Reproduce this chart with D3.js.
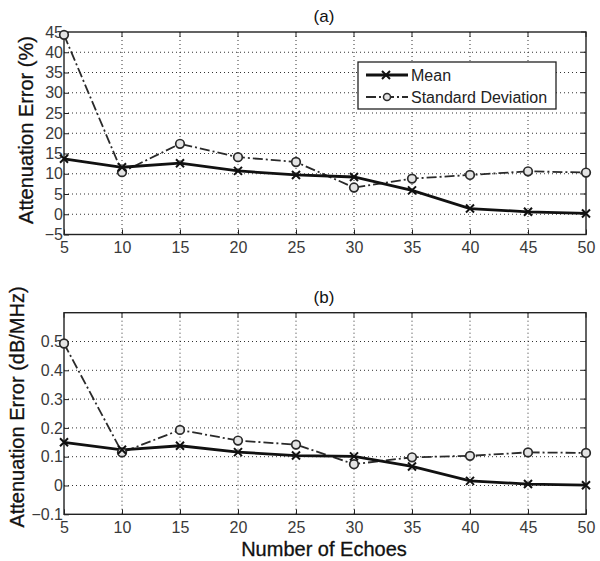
<!DOCTYPE html>
<html><head><meta charset="utf-8">
<script src="https://cdn.jsdelivr.net/npm/d3@7"></script>
<style>body{margin:0;background:#fff}svg{display:block}</style>
</head><body>
<script>
const echoes = [5,10,15,20,25,30,35,40,45,50];
const meanA = [13.7,11.6,12.6,10.7,9.7,9.2,5.9,1.4,0.6,0.2];
const stdA  = [44.3,10.4,17.4,14.1,12.9,6.6,8.8,9.7,10.6,10.3];
const meanB = [0.150,0.124,0.138,0.116,0.104,0.101,0.066,0.016,0.005,0.001];
const stdB  = [0.493,0.115,0.193,0.156,0.142,0.074,0.098,0.103,0.115,0.113];
const ticksA = [-5,0,5,10,15,20,25,30,35,40,45];
const ticksB = [-0.1,0,0.1,0.2,0.3,0.4,0.5];
const legendLabels = ["Mean","Standard Deviation"];

const W=600,H=561;
const FONT="'Liberation Sans', Arial, sans-serif";
const svg=d3.select("body").append("svg").attr("width",W).attr("height",H)
  .style("font-family",FONT);

const x=d3.scaleLinear().domain([5,50]).range([64,586]);

function panel(top,bottom,domain,ticks,mean,std,title,ylabel,yx,ycenter,fmt,legend){
  const y=d3.scaleLinear().domain(domain).range([bottom,top]);
  const g=svg.append("g");
  // grid
  g.selectAll(".gx").data(echoes.slice(1,-1)).join("line")
    .attr("x1",d=>x(d)).attr("x2",d=>x(d)).attr("y1",top).attr("y2",bottom)
    .attr("stroke","#333").attr("stroke-width",1).attr("stroke-dasharray","1,3");
  g.selectAll(".gy").data(ticks.filter(t=>t>domain[0]+1e-9&&t<domain[1]-1e-9)).join("line")
    .attr("x1",64).attr("x2",586).attr("y1",d=>y(d)).attr("y2",d=>y(d))
    .attr("stroke","#333").attr("stroke-width",1).attr("stroke-dasharray","1,3");
  // axes
  const xa=g.append("g").attr("transform",`translate(0,${bottom})`)
    .call(d3.axisBottom(x).tickValues(echoes).tickSize(-5).tickPadding(9));
  const ya=g.append("g").attr("transform",`translate(64,0)`)
    .call(d3.axisLeft(y).tickValues(ticks).tickSize(-5).tickPadding(1).tickFormat(fmt));
  [xa,ya].forEach(a=>{a.select(".domain").remove();
    a.selectAll("text").attr("font-size",16).attr("fill","#3a3a3a").attr("font-family",FONT);
    a.selectAll("line").attr("stroke","#222");});
  xa.selectAll("text").attr("dy","0.6em");
  // top / right ticks
  g.selectAll(".tt").data(echoes).join("line").attr("x1",d=>x(d)).attr("x2",d=>x(d))
    .attr("y1",top).attr("y2",top+5).attr("stroke","#222");
  g.selectAll(".rt").data(ticks).join("line").attr("x1",586).attr("x2",581)
    .attr("y1",d=>y(d)).attr("y2",d=>y(d)).attr("stroke","#222");
  g.append("rect").attr("x",64).attr("y",top).attr("width",522).attr("height",bottom-top)
    .attr("fill","none").attr("stroke","#222").attr("stroke-width",1.4);
  // lines
  const line=d3.line().x((d,i)=>x(echoes[i])).y(d=>y(d));
  g.append("path").datum(std).attr("d",line).attr("fill","none").attr("stroke","#2a2a2a")
    .attr("stroke-width",1.8).attr("stroke-dasharray","10,3,2,3");
  g.append("path").datum(mean).attr("d",line).attr("fill","none").attr("stroke","#111")
    .attr("stroke-width",2.8);
  g.selectAll(".c").data(std).join("circle").attr("cx",(d,i)=>x(echoes[i])).attr("cy",d=>y(d))
    .attr("r",4.3).attr("fill","#e4e4e4").attr("stroke","#2a2a2a").attr("stroke-width",1.7);
  g.selectAll(".m").data(mean).join("path")
    .attr("transform",(d,i)=>`translate(${x(echoes[i])},${y(d)})`)
    .attr("d","M-4,-4L4,4M-4,4L4,-4").attr("stroke","#111").attr("stroke-width",2);
  // title
  g.append("text").attr("x",324).attr("y",top-10).attr("text-anchor","middle")
    .attr("font-size",17).attr("fill","#111").text(title);
  g.append("text").attr("transform",`translate(${yx},${ycenter}) rotate(-90)`)
    .attr("text-anchor","middle").attr("font-size",20).attr("fill","#111")
    .attr("stroke","#111").attr("stroke-width",0.3).text(ylabel);
  if(legend){
    const lg=g.append("g");
    lg.append("rect").attr("x",358).attr("y",62).attr("width",198).attr("height",47)
      .attr("fill","#fff").attr("stroke","#222").attr("stroke-width",1.3);
    lg.append("line").attr("x1",366).attr("x2",408).attr("y1",75).attr("y2",75)
      .attr("stroke","#111").attr("stroke-width",2.8);
    lg.append("path").attr("transform","translate(386,75)").attr("d","M-4,-4L4,4M-4,4L4,-4")
      .attr("stroke","#111").attr("stroke-width",2);
    lg.append("line").attr("x1",366).attr("x2",408).attr("y1",97).attr("y2",97)
      .attr("stroke","#2a2a2a").attr("stroke-width",1.8).attr("stroke-dasharray","10,3,2,3");
    lg.append("circle").attr("cx",387).attr("cy",97).attr("r",3.5).attr("fill","#e4e4e4")
      .attr("stroke","#2a2a2a").attr("stroke-width",1.5);
    lg.selectAll(".lt").data(legendLabels).join("text").attr("x",411).attr("y",(d,i)=>75+i*22)
      .attr("dy","0.35em").attr("font-size",16).attr("fill","#222").text(d=>d);
  }
}
panel(32,234.5,[-5,45],ticksA,meanA,stdA,"(a)","Attenuation Error (%)",33,130,d3.format("d"),true);
panel(312.7,514.3,[-0.1,0.6],ticksB,meanB,stdB,"(b)","Attenuation Error (dB/MHz)",24,407,d=>d===0?"0":d3.format(".1f")(d),false);
svg.append("text").attr("x",324).attr("y",556).attr("text-anchor","middle")
  .attr("font-size",20).attr("fill","#111").attr("stroke","#111").attr("stroke-width",0.3)
  .text("Number of Echoes");
</script>
</body></html>
